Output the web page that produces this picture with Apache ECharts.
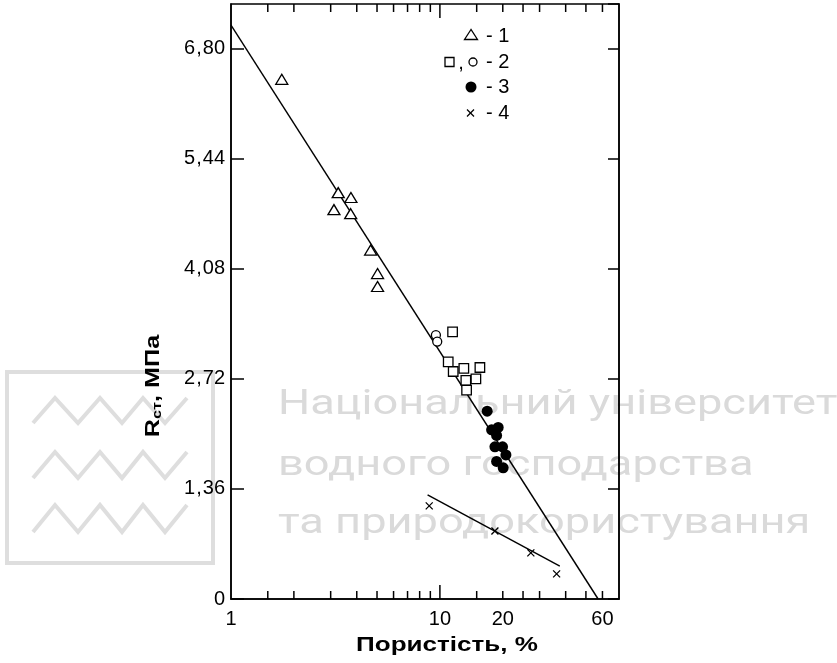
<!DOCTYPE html>
<html>
<head>
<meta charset="utf-8">
<script src="https://cdn.jsdelivr.net/npm/echarts@6/dist/echarts.min.js"></script>
<style>
html, body { margin: 0; padding: 0; background: #fff; }
#chart { width: 837px; height: 663px; }
</style>
</head>
<body>
<div id="chart"></div>
<script>
// група 1 - трикутники
const triangles = [[1.75, 6.42], [3.26, 5.02], [3.75, 4.96], [3.11, 4.81], [3.74, 4.76], [4.66, 4.31], [5.03, 4.02], [5.03, 3.86]];
// група 2 - квадрати і кола
const squares = [[11.5, 3.30], [10.96, 2.93], [11.58, 2.81], [13.02, 2.85], [15.54, 2.86], [13.31, 2.70], [14.87, 2.72], [13.42, 2.58]];
const openCircles = [[9.57, 3.26], [9.71, 3.18]];
// група 3
const filledCircles = [[16.84, 2.32], [17.68, 2.09], [19.01, 2.12], [18.68, 2.02], [18.34, 1.88], [19.95, 1.88], [20.7, 1.78], [18.68, 1.70], [20.09, 1.62]];
// група 4
const crosses = [[8.89, 1.15], [18.34, 0.84], [27.25, 0.57], [36.2, 0.31]];
// лінії
const mainLine = [[1, 7.09], [57.2, 0]];
const crossLine = [[8.73, 1.285], [37.5, 0.405]];
// осі
const xMinorTicks = [1.5, 2, 3, 4, 5, 6, 7, 8, 9, 15, 20, 25, 30, 40, 50, 60];
const xMajorTicks = [10];
const xTickLabels = [1, 10, 20, 60];
const yStep = 1.36;
const yMax = 7.35;
const xMax = 72;

const FONT = '"Liberation Sans", Arial, sans-serif';
const LW = 1.5;
const chart = echarts.init(document.getElementById('chart'));

function tickRenderer(len) {
  return function (params, api) {
    const cs = params.coordSys;
    const x = api.coord([api.value(0), api.value(1)])[0];
    const bottom = cs.y + cs.height;
    return {
      type: 'group',
      children: [
        { type: 'line', shape: { x1: x, y1: bottom, x2: x, y2: bottom - len }, style: { stroke: '#000', lineWidth: LW } },
        { type: 'line', shape: { x1: x, y1: cs.y, x2: x, y2: cs.y + len }, style: { stroke: '#000', lineWidth: LW } }
      ]
    };
  };
}

const axisCommon = {
  type: 'value', min: 0, max: yMax, interval: yStep,
  axisLine: { show: true, lineStyle: { color: '#000', width: LW } },
  splitLine: { show: false }
};

const wmText = { fill: '#dadada', font: '35px Roboto, sans-serif', align: 'left', verticalAlign: 'middle' };
const wmLine = { fill: 'none', stroke: '#dedede', lineWidth: 4 };
const hollow = { color: '#fff', borderColor: '#000', borderWidth: 1.3, opacity: 1 };

const option = {
  animation: false,
  backgroundColor: '#fff',
  grid: { left: 231, right: 218, top: 4, bottom: 64, show: true, borderColor: '#000', borderWidth: LW },
  xAxis: {
    type: 'log', logBase: 10, min: 1, max: xMax,
    axisLine: { show: true, lineStyle: { color: '#000', width: LW } },
    axisTick: { show: false }, axisLabel: { show: false },
    splitLine: { show: false }, minorTick: { show: false }
  },
  yAxis: [
    Object.assign({}, axisCommon, {
      position: 'left',
      axisTick: { show: true, inside: true, length: 13, lineStyle: { color: '#000', width: LW } },
      axisLabel: {
        color: '#000', margin: 6, showMaxLabel: false,
        rich: {
          n: { fontSize: 20, fontFamily: FONT, color: '#000' },
          c: { fontSize: 20, fontFamily: FONT, color: '#000', padding: [0, 1, 0, 1] }
        },
        formatter: function (v) {
          const k = v / yStep;
          if (Math.abs(k - Math.round(k)) > 1e-6) return '';
          if (v === 0) return '{n|0}';
          const p = v.toFixed(2).split('.');
          return '{n|' + p[0] + '}{c|,}{n|' + p[1] + '}';
        }
      }
    }),
    Object.assign({}, axisCommon, {
      position: 'right',
      axisTick: { show: true, inside: true, length: 11, lineStyle: { color: '#000', width: LW } },
      axisLabel: { show: false }
    })
  ],
  graphic: [
    // водяний знак
    { type: 'rect', z: -10, silent: true, shape: { x: 7, y: 372, width: 206, height: 191 }, style: wmLine },
    { type: 'polyline', z: -10, silent: true, shape: { points: [[33, 423], [55, 398], [78, 423], [100, 398], [122, 423], [143, 398], [165, 423], [187, 398]] }, style: wmLine },
    { type: 'polyline', z: -10, silent: true, shape: { points: [[33, 478], [55, 452], [78, 478], [100, 452], [122, 478], [143, 452], [165, 478], [187, 452]] }, style: wmLine },
    { type: 'polyline', z: -10, silent: true, shape: { points: [[33, 532], [55, 505], [78, 532], [100, 505], [122, 532], [143, 505], [165, 532], [187, 505]] }, style: wmLine },
    { type: 'text', z: -10, silent: true, x: 278, y: 405, scaleX: 1.29, style: Object.assign({ text: 'Національний університет' }, wmText) },
    { type: 'text', z: -10, silent: true, x: 278, y: 466, scaleX: 1.29, style: Object.assign({ text: 'водного господарства' }, wmText) },
    { type: 'text', z: -10, silent: true, x: 278, y: 524, scaleX: 1.29, style: Object.assign({ text: 'та природокористування' }, wmText) },
    // підписи осей
    {
      type: 'text', x: 153, y: 386, rotation: Math.PI / 2, scaleX: 1.26,
      style: {
        text: '{b|R}{s|ст}{b|, МПа}', align: 'center', verticalAlign: 'middle',
        rich: {
          b: { fontSize: 20, fontWeight: 'bold', fontFamily: FONT, fill: '#000', lineHeight: 22 },
          s: { fontSize: 13, fontWeight: 'bold', fontFamily: FONT, fill: '#000', lineHeight: 22, verticalAlign: 'bottom' }
        }
      }
    },
    { type: 'text', x: 447, y: 645, scaleX: 1.24, style: { text: 'Пористість, %', fill: '#000', font: 'bold 21px ' + FONT, align: 'center', verticalAlign: 'middle' } },
    // легенда
    { type: 'polygon', shape: { points: [[471, 29.5], [464.5, 39.5], [477.5, 39.5]] }, style: { fill: '#fff', stroke: '#000', lineWidth: 1.3 } },
    { type: 'rect', shape: { x: 445, y: 57.5, width: 9, height: 9 }, style: { fill: '#fff', stroke: '#000', lineWidth: 1.3 } },
    { type: 'text', x: 461, y: 63, style: { text: ',', fill: '#000', font: '20px ' + FONT, align: 'center', verticalAlign: 'middle' } },
    { type: 'circle', shape: { cx: 473, cy: 62, r: 4 }, style: { fill: '#fff', stroke: '#000', lineWidth: 1.3 } },
    { type: 'circle', shape: { cx: 471, cy: 87, r: 5.5 }, style: { fill: '#000' } },
    { type: 'line', shape: { x1: 467, y1: 109.5, x2: 474, y2: 116.5 }, style: { stroke: '#000', lineWidth: 1.3 } },
    { type: 'line', shape: { x1: 474, y1: 109.5, x2: 467, y2: 116.5 }, style: { stroke: '#000', lineWidth: 1.3 } },
    { type: 'text', x: 486, y: 36, style: { text: '- 1', fill: '#000', font: '20px ' + FONT, verticalAlign: 'middle' } },
    { type: 'text', x: 486, y: 62, style: { text: '- 2', fill: '#000', font: '20px ' + FONT, verticalAlign: 'middle' } },
    { type: 'text', x: 486, y: 87, style: { text: '- 3', fill: '#000', font: '20px ' + FONT, verticalAlign: 'middle' } },
    { type: 'text', x: 486, y: 113, style: { text: '- 4', fill: '#000', font: '20px ' + FONT, verticalAlign: 'middle' } }
  ],
  series: [
    { type: 'line', data: mainLine, showSymbol: false, z: 1, silent: true, lineStyle: { color: '#000', width: 1.4 } },
    { type: 'line', data: crossLine, showSymbol: false, z: 1, silent: true, lineStyle: { color: '#000', width: 1.4 } },
    { type: 'scatter', data: triangles, symbol: 'triangle', symbolSize: [12, 10], z: 3, itemStyle: hollow },
    { type: 'scatter', data: squares, symbol: 'rect', symbolSize: 9.5, z: 3, itemStyle: hollow },
    { type: 'scatter', data: openCircles, symbol: 'circle', symbolSize: 9, z: 3, itemStyle: hollow },
    { type: 'scatter', data: filledCircles, symbol: 'circle', symbolSize: 11, z: 3, itemStyle: { color: '#000', opacity: 1 } },
    { type: 'scatter', data: crosses, symbol: 'path://M0,0L1,1M1,0L0,1', symbolSize: 7, z: 3, itemStyle: { color: 'none', borderColor: '#000', borderWidth: 1.3, opacity: 1 } },
    // поділки осі X
    { type: 'custom', silent: true, z: 4, data: xMinorTicks.map(v => [v, 0]), renderItem: tickRenderer(8) },
    { type: 'custom', silent: true, z: 4, data: xMajorTicks.map(v => [v, 0]), renderItem: tickRenderer(14) },
    {
      type: 'custom', silent: true, z: 4, data: xTickLabels.map(v => [v, 0]),
      renderItem: function (params, api) {
        const cs = params.coordSys;
        const x = api.coord([api.value(0), api.value(1)])[0];
        return { type: 'text', x: x, y: cs.y + cs.height + 20, style: { text: String(api.value(0)), fill: '#000', font: '20px ' + FONT, align: 'center', verticalAlign: 'middle' } };
      }
    }
  ]
};
chart.setOption(option);
</script>
</body>
</html>
